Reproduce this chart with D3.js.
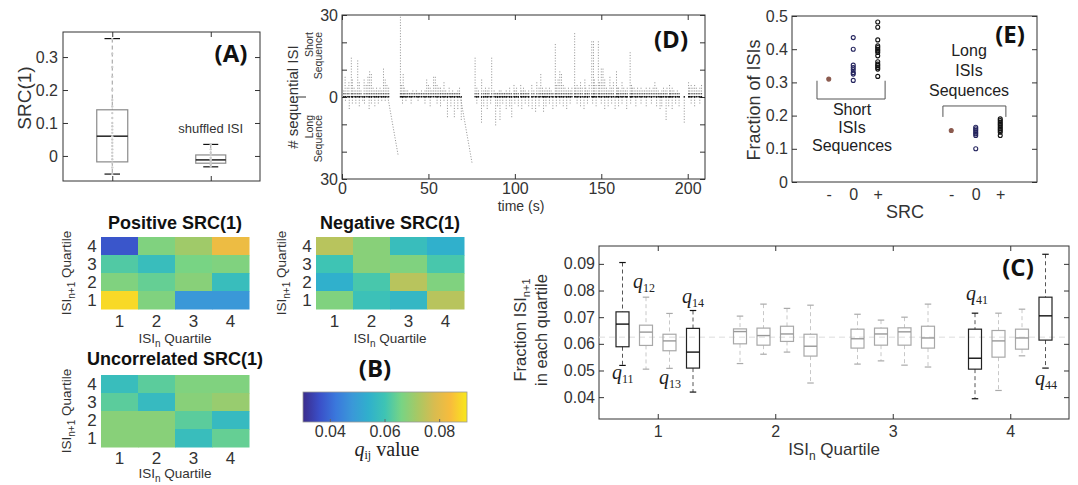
<!DOCTYPE html>
<html>
<head>
<meta charset="utf-8">
<script src="https://cdn.jsdelivr.net/npm/d3@7"></script>
<style>
body { margin: 0; background: #fff; }
svg { display: block; font-family: "Liberation Sans", Arial, sans-serif; }
.tag { font-family: "Open Sans", sans-serif; font-weight: bold; font-size: 24px; fill: #111; }
</style>
</head>
<body>
<svg id="fig" width="1078" height="485"></svg>
<script>
// ---------- data ----------

// (A) SRC(1) box plots: [low whisker, q1, median, q3, high whisker]
var srcGroups = ["ISI", "shuffled ISI"]
var srcBoxes = [[-0.055, -0.018, 0.06, 0.14, 0.356], [-0.033, -0.022, -0.012, 0.003, 0.035]]
var srcDots = [0.355, 0.31, 0.27, 0.24, 0.2, 0.17, 0.15, 0.13, 0.115, 0.1, 0.09, 0.08, 0.07, 0.06, 0.05, 0.04, 0.03, 0.02, 0.01, 0.0, -0.01, -0.02, -0.035, -0.055]
var shufDots = [0.035, 0.02, 0.01, 0.003, -0.005, -0.01, -0.015, -0.02, -0.025, -0.033]

// (D) sequences: [time (s), number of sequential ISIs]  (+ short, - long)
var shortSeq = [[1,2],[1.8,7],[3,3],[4,5],[5.4,14],[6,6],[7,3],[8,2],[9.1,13],[10,5],[11,2],[12.8,6],[14,4],[15,7],[16,9],[17,8],[18,3],[19,2],[20,3],[21,2],[22,3],[23,2],[24,10],[25,6],[26,4],[27,3],
  [33.8,29],[34.5,4],[35.4,8],[36,3],[37,2],[38,2],[39,1],[40,1],[41,2],[42,1],[43,2],[44,1],[45,1],[46,2],[47,1],[48,2],[49,6],[50,4],[51,3],[52,2],[53,7],[54,7],[55,4],[56,3],[57,3],[58,2],[59,5],[60,2],[61,1],[62,3],[63,1],[64,2],[65,1],[66,1],[67,2],[68,3],
  [77,14],[78,3],[79,2],[80.8,6],[82,2],[83,3],[84,2],[85,3],[86.6,14],[88,2],[89,1],[90,1],[91,2],[92,2],[93,1],[94,1],[95,2],[96,1],[97,3],[98,1],[99.5,4],[100,2],[101,3],[102,1],[103.4,4],[104,2],[105,3],[106,2],[107,1],[108,2],[109.8,4],[111,2],[112.7,5],[114,3],[115,8],[116,3],[117,2],[118,3],[119,2],[120,3],[121,2],[122,1],[123.4,19],[124,4],[125,6],[126,9],[127,8],[128,4],[129,3],[130,2],[131,3],[132,2],[133,3],
  [134.6,23],[135,3],[136,4],[137,3],[138,5],[139,3],[140.5,6],[141,3],[142,2],[143,4],[144.5,20],[145.5,20],[146,6],[147,4],[148.3,20],[149,5],[150,10],[151,10],[152,6],[153,3],[154,2],[155,7],[156,3],[157,5],[158.8,9],[159.5,3],[160,3],[161,2],[162,5],[163,3],[164,2],[165,3],[166.7,16],[167.5,4],[168,3],[169,3],[170,2],
  [171,3],[172,2],[173,3],[174,2],[175,2],[176,3],[177,2],[178,3],[179,2],[180,3],[181,5],[182,3],[183,2],[184,1],[185,2],[186,3],[187,2],[188,3],[189.5,4],[190,2],[191,3],[192,2],[193,1],[194,2],[195,1],[200.5,5],[201,3],[202,4],[203,3],[204,4],[205,3],[206,2],[207,3],[208,4]]
var longSeq = [[2,-1],[4.2,-4],[6,-2],[8,-2],[10,-3],[12,-1],[13,-2],[15.7,-4],[17,-2],[19,-3],[21,-2],[23,-1],[25,-1],[35,-2],[37,-1],[40,-2],[44,-1],[48,-2],[51,-3],[55,-2],[57,-3],[59,-1],[61,-7],[63,-3],[65,-7],[67,-4],[69,-8],
  [78,-2],[80.7,-9],[82,-3],[84,-4],[86,-2],[88.9,-10],[90,-3],[91.4,-8],[93,-2],[95,-4],[97,-3],[98.2,-7],[100,-2],[102,-3],[104,-4],[106,-2],[108,-3],[110,-4],[112,-5],[114,-3],[116.6,-5],[118,-3],[120,-2],[122,-4],[124,-3],[126,-2],[128,-3],[130,-4],[132,-2],
  [136,-2],[138,-3],[140,-4],[142,-2],[145,-2],[147,-3],[150,-2],[152,-4],[154,-3],[156,-2],[158,-4],[160,-3],[162,-2],[164.7,-4],[167,-2],[170,-3],[173,-2],[176,-3],[179,-2],[182,-3],[184,-4],[185,-3],[187.5,-8],[189,-3],[191,-4],[193,-2],[195,-3],[198,-9],[202,-2],[204,-3],[207,-2]]
// long runs that spread over time: [start (s), end (s), length]
var longRuns = [[26.5, 32.5, -21], [68.5, 75.3, -24]]

// (E) fraction of ISIs per SRC sign
var eCats = ["-", "0", "+", "-", "0", "+"]
var eVals = [
  [0.31],
  [0.435, 0.40, 0.352, 0.345, 0.338, 0.33, 0.325, 0.306],
  [0.482, 0.466, 0.428, 0.41, 0.405, 0.40, 0.395, 0.39, 0.38, 0.362, 0.355, 0.35, 0.345, 0.34, 0.318],
  [0.155],
  [0.165, 0.16, 0.155, 0.15, 0.145, 0.14, 0.10],
  [0.19, 0.185, 0.18, 0.175, 0.17, 0.165, 0.16, 0.155, 0.15, 0.14]
]

// (B) q_ij heatmaps, rows = ISI_{n+1} quartile 4..1, cols = ISI_n quartile 1..4
var quartiles = [1, 2, 3, 4]
var rowQuartiles = [4, 3, 2, 1]
var posSRC = [[0.037, 0.067, 0.071, 0.082], [0.062, 0.058, 0.066, 0.067], [0.067, 0.064, 0.068, 0.058], [0.088, 0.067, 0.048, 0.048]]
var negSRC = [[0.074, 0.068, 0.058, 0.054], [0.060, 0.068, 0.067, 0.061], [0.054, 0.061, 0.074, 0.067], [0.067, 0.059, 0.056, 0.074]]
var uncSRC = [[0.058, 0.063, 0.067, 0.067], [0.063, 0.057, 0.068, 0.070], [0.068, 0.068, 0.063, 0.057], [0.068, 0.068, 0.058, 0.064]]
var cbTicks = [0.04, 0.06, 0.08]

// (C) q_ij box plots, order q11..q14, q21..q24, ...: [low, q1, median, q3, high]
var qBoxes = [
  [0.0519, 0.0589, 0.0674, 0.0720, 0.0905], [0.0505, 0.0594, 0.0644, 0.0670, 0.0775], [0.0508, 0.0574, 0.0611, 0.0636, 0.0714], [0.0419, 0.0509, 0.0569, 0.0658, 0.0725],
  [0.0526, 0.0600, 0.0646, 0.0656, 0.0704], [0.0561, 0.0595, 0.0631, 0.0659, 0.0749], [0.0569, 0.0609, 0.0637, 0.0666, 0.0733], [0.0453, 0.0554, 0.0591, 0.0636, 0.0745],
  [0.0524, 0.0584, 0.0619, 0.0655, 0.0711], [0.0536, 0.0595, 0.0637, 0.0659, 0.0689], [0.0520, 0.0595, 0.0645, 0.0660, 0.0700], [0.0513, 0.0584, 0.0622, 0.0666, 0.0749],
  [0.0394, 0.0505, 0.0546, 0.0655, 0.0715], [0.0425, 0.0550, 0.0611, 0.0650, 0.0715], [0.0555, 0.0580, 0.0622, 0.0655, 0.0730], [0.0509, 0.0614, 0.0705, 0.0775, 0.0936]
]
var qHighlight = ["11", "14", "41", "44"]
var qUniform = 0.0625

// ---------- helpers ----------
var svg = d3.select("#fig")
svg.append("rect").attr("width", 1078).attr("height", 485).attr("fill", "#fff")

var axisCol = "#333"

// matlab-style box with inward ticks
function boxAxes(x, y, o) {
  var xr = x.range(), yr = y.range()
  var g = svg.append("g")
  g.append("g").attr("transform", "translate(" + xr[0] + ",0)")
    .call(d3.axisLeft(y).tickValues(o.yTicks).tickSizeInner(-5).tickSizeOuter(0).tickPadding(o.yPad || 5).tickFormat(o.yFmt))
  g.append("g").attr("transform", "translate(" + xr[1] + ",0)")
    .call(d3.axisRight(y).tickValues(o.yTicks).tickSizeInner(-5).tickSizeOuter(0).tickFormat(""))
  if (o.xTicks) {
    g.append("g").attr("transform", "translate(0," + yr[0] + ")")
      .call(d3.axisBottom(x).tickValues(o.xTicks).tickSizeInner(o.noXTick ? 0 : -5).tickSizeOuter(0).tickPadding(o.xPad || 6).tickFormat(o.xFmt))
    if (!o.noXTick) {
      g.append("g").attr("transform", "translate(0," + yr[1] + ")")
        .call(d3.axisTop(x).tickValues(o.xTicks).tickSizeInner(-5).tickSizeOuter(0).tickFormat(""))
    }
  }
  g.selectAll(".domain").remove()
  g.selectAll("g").attr("font-family", null).attr("font-size", null)
  g.selectAll(".tick line").attr("stroke", axisCol)
  g.selectAll(".tick text").attr("fill", axisCol).style("font-size", (o.fs || 16) + "px")
  g.append("rect").attr("x", xr[0]).attr("y", yr[1]).attr("width", xr[1] - xr[0]).attr("height", yr[0] - yr[1])
    .attr("fill", "none").attr("stroke", axisCol).attr("stroke-width", 1)
  return g
}

function rich(sel, parts, subSize, shift) {
  var down = false
  parts.forEach(function(p) {
    var isSub = p.charAt(0) === "_"
    var s = sel.append("tspan").text(isSub ? p.slice(1) : p)
    if (isSub) { s.attr("font-size", subSize).attr("dy", shift); down = true }
    else if (down) { s.attr("dy", -shift); down = false }
  })
  return sel
}

function rotLabel(x, y, size) {
  return svg.append("text").attr("transform", "translate(" + x + "," + y + ") rotate(-90)")
    .attr("text-anchor", "middle").attr("fill", axisCol).style("font-size", size + "px")
}

function drawBox(g, cx, w, b, y, st) {
  g.append("line").attr("x1", cx).attr("x2", cx).attr("y1", y(b[4])).attr("y2", y(b[3]))
    .attr("stroke", st.whisker).attr("stroke-dasharray", "4,3")
  g.append("line").attr("x1", cx).attr("x2", cx).attr("y1", y(b[1])).attr("y2", y(b[0]))
    .attr("stroke", st.whisker).attr("stroke-dasharray", "4,3")
  ;[b[0], b[4]].forEach(function(v) {
    g.append("line").attr("x1", cx - w / 4).attr("x2", cx + w / 4).attr("y1", y(v)).attr("y2", y(v))
      .attr("stroke", st.cap).attr("stroke-width", 1.2)
  })
  g.append("rect").attr("x", cx - w / 2).attr("y", y(b[3])).attr("width", w).attr("height", y(b[1]) - y(b[3]))
    .attr("fill", "none").attr("stroke", st.box).attr("stroke-width", 1.2)
  g.append("line").attr("x1", cx - w / 2).attr("x2", cx + w / 2).attr("y1", y(b[2])).attr("y2", y(b[2]))
    .attr("stroke", st.median).attr("stroke-width", 1.4)
}

// ---------- (A) ----------
var xA = d3.scalePoint().domain(srcGroups).range([63, 260]).padding(0.5)
var yA = d3.scaleLinear().domain([-0.076, 0.376]).range([181, 32])
boxAxes(xA, yA, {yTicks: [0, 0.1, 0.2, 0.3], yFmt: function(d) { return d === 0 ? "0" : d3.format(".1f")(d) },
  xTicks: srcGroups, xFmt: "", yPad: 5})
var aG = svg.append("g")
var aStyle = {whisker: "#999", cap: "#111", box: "#8a8a8a", median: "#111"}
srcBoxes.forEach(function(b, i) { drawBox(aG, xA(srcGroups[i]), i === 0 ? 31 : 30, b, yA, aStyle) })
aG.selectAll(".d1").data(srcDots).enter().append("circle")
  .attr("cx", xA(srcGroups[0])).attr("cy", function(d) { return yA(d) }).attr("r", 1.2).attr("fill", "#ccc")
aG.selectAll(".d2").data(shufDots).enter().append("circle")
  .attr("cx", xA(srcGroups[1])).attr("cy", function(d) { return yA(d) }).attr("r", 1.2).attr("fill", "#ccc")
svg.append("text").attr("x", xA(srcGroups[1])).attr("y", 133).attr("text-anchor", "middle")
  .attr("fill", axisCol).style("font-size", "13px").text("shuffled ISI")
rotLabel(31, 98, 19).text("SRC(1)")
svg.append("text").attr("class", "tag").attr("x", 231).attr("y", 62).attr("text-anchor", "middle").text("(A)")

// ---------- (D) ----------
var xD = d3.scaleLinear().domain([0, 210]).range([342, 705])
var yD = d3.scaleLinear().domain([-30, 30]).range([179, 15])
boxAxes(xD, yD, {yTicks: [-30, -20, -10, 0, 10, 20, 30], yFmt: function(d) { return d % 30 === 0 ? Math.abs(d) : "" },
  xTicks: [0, 50, 100, 150, 200], xFmt: d3.format("d"), yPad: 4, xPad: 4})
var unit = yD(0) - yD(1)
var dash = "1.1," + (unit - 1.1).toFixed(2)
var dG = svg.append("g")
dG.selectAll(".col").data(shortSeq.concat(longSeq)).enter().append("line")
  .attr("x1", function(d) { return xD(d[0]) }).attr("x2", function(d) { return xD(d[0]) })
  .attr("y1", yD(0)).attr("y2", function(d) { return yD(d[1]) + (d[1] > 0 ? -1.1 : 1.1) })
  .attr("stroke", "#999").attr("stroke-width", 1).attr("stroke-dasharray", dash)
dG.selectAll(".run").data(longRuns).enter().append("line")
  .attr("x1", function(d) { return xD(d[0]) }).attr("x2", function(d) { return xD(d[1]) })
  .attr("y1", yD(0)).attr("y2", function(d) { return yD(d[2]) + 1.1 })
  .attr("stroke", "#999").attr("stroke-width", 1).attr("stroke-dasharray", dash)
dG.selectAll(".base").data(shortSeq.concat(longSeq)).enter().append("line")
  .attr("x1", function(d) { return xD(d[0]) }).attr("x2", function(d) { return xD(d[0]) })
  .attr("y1", yD(0) + 0.6).attr("y2", yD(0) - 1)
  .attr("stroke", "#111").attr("stroke-width", 1.2)
dG.selectAll(".base1").data(shortSeq).enter().append("line")
  .attr("x1", function(d) { return xD(d[0]) }).attr("x2", function(d) { return xD(d[0]) })
  .attr("y1", yD(1)).attr("y2", yD(1) - 1.1)
  .attr("stroke", "#555").attr("stroke-width", 1.1)
svg.append("line").attr("x1", 296).attr("x2", 306).attr("y1", yD(0)).attr("y2", yD(0)).attr("stroke", axisCol)
rotLabel(298, 97, 15).text("# sequential ISI")
;[["Short", 313, 32], ["Sequence", 322, 32], ["Long", 313, 115], ["Sequence", 322, 115]].forEach(function(s) {
  svg.append("text").attr("transform", "translate(" + s[1] + "," + s[2] + ") rotate(-90)")
    .attr("text-anchor", "end").attr("fill", axisCol).style("font-size", "10.5px").text(s[0])
})
svg.append("text").attr("x", 521).attr("y", 211).attr("text-anchor", "middle").attr("fill", axisCol)
  .style("font-size", "14px").text("time (s)")
svg.append("text").attr("class", "tag").attr("x", 671).attr("y", 48).attr("text-anchor", "middle").text("(D)")

// ---------- (E) ----------
var ePos = [2, 3, 4, 7, 8, 9]
var xE = d3.scaleLinear().domain([0.5, 10.5]).range([792, 1037])
var yE = d3.scaleLinear().domain([0, 0.5]).range([182, 16])
boxAxes(xE, yE, {yTicks: [0, 0.1, 0.2, 0.3, 0.4, 0.5], yFmt: function(d) { return d === 0 ? "0" : d3.format(".1f")(d) },
  xTicks: ePos, xFmt: function(d, i) { return eCats[i] }, noXTick: true, yPad: 4, xPad: 7})
var eCol = ["#8b5a4e", "#24245e", "#111", "#8b5a4e", "#24245e", "#111"]
var eG = svg.append("g")
eVals.forEach(function(vals, i) {
  eG.selectAll(".e" + i).data(vals).enter().append("circle")
    .attr("cx", xE(ePos[i])).attr("cy", function(d) { return yE(d) }).attr("r", 2)
    .attr("fill", eCats[i] === "-" ? eCol[i] : "none").attr("stroke", eCol[i]).attr("stroke-width", 1.1)
})
// brackets
var bracket = d3.line()
eG.append("path").attr("d", bracket([[xE(1.52), yE(0.305)], [xE(1.52), yE(0.25)], [xE(4.3), yE(0.25)], [xE(4.3), yE(0.305)]]))
  .attr("fill", "none").attr("stroke", "#555")
eG.append("path").attr("d", bracket([[xE(6.66), yE(0.196)], [xE(6.66), yE(0.229)], [xE(9.23), yE(0.229)], [xE(9.23), yE(0.196)]]))
  .attr("fill", "none").attr("stroke", "#555")
;[["Short", 115], ["ISIs", 133], ["Sequences", 151]].forEach(function(s) {
  svg.append("text").attr("x", 852).attr("y", s[1]).attr("text-anchor", "middle").attr("fill", "#222")
    .style("font-size", "16px").text(s[0])
})
;[["Long", 56], ["ISIs", 76], ["Sequences", 96]].forEach(function(s) {
  svg.append("text").attr("x", 969).attr("y", s[1]).attr("text-anchor", "middle").attr("fill", "#222")
    .style("font-size", "16px").text(s[0])
})
rotLabel(760, 100, 18).text("Fraction of ISIs")
svg.append("text").attr("x", 905).attr("y", 218).attr("text-anchor", "middle").attr("fill", axisCol)
  .style("font-size", "18px").text("SRC")
svg.append("text").attr("class", "tag").attr("x", 1010).attr("y", 43).attr("text-anchor", "middle").text("(E)")

// ---------- (B) ----------
var parula = ["#3b2c8c", "#3a4fc8", "#3a78dc", "#3a98d8", "#30b0cc", "#3ec4b4", "#78d484", "#a8c864", "#d8bc50", "#f8bc3c", "#f8e81c"]
var color = d3.scaleLinear()
  .domain(parula.map(function(c, i) { return 0.03 + 0.06 * i / (parula.length - 1) }))
  .range(parula).clamp(true)

function heatmap(data, x0, y0, title, tickPad, labelPad, titlePad) {
  var x = d3.scaleBand().domain(quartiles).range([x0, x0 + 148])
  var y = d3.scaleBand().domain(rowQuartiles).range([y0, y0 + 72])
  var g = svg.append("g")
  data.forEach(function(row, r) {
    g.selectAll(".r" + r).data(row).enter().append("rect")
      .attr("x", function(d, c) { return x(quartiles[c]) }).attr("y", y(rowQuartiles[r]))
      .attr("width", x.bandwidth() + 0.5).attr("height", y.bandwidth() + 0.5)
      .attr("fill", function(d) { return color(d) })
  })
  g.selectAll(".yt").data(rowQuartiles).enter().append("text")
    .attr("x", x0 - 9).attr("y", function(d) { return y(d) + y.bandwidth() / 2 }).attr("dy", "0.36em")
    .attr("text-anchor", "middle").attr("fill", axisCol).style("font-size", "17px").text(function(d) { return d })
  g.selectAll(".xt").data(quartiles).enter().append("text")
    .attr("x", function(d) { return x(d) + x.bandwidth() / 2 }).attr("y", y0 + 72 + tickPad)
    .attr("text-anchor", "middle").attr("fill", axisCol).style("font-size", "17px").text(function(d) { return d })
  rich(g.append("text").attr("x", x0 + 74).attr("y", y0 + 72 + labelPad).attr("text-anchor", "middle")
    .attr("fill", axisCol).style("font-size", "13.5px"), ["ISI", "_n", " Quartile"], "10px", 4)
  rich(rotLabel(x0 - 30, y0 + 36, 13.5), ["ISI", "_n+1", " Quartile"], "10px", 4)
  g.append("text").attr("x", x0 + 74).attr("y", y0 - titlePad).attr("text-anchor", "middle")
    .attr("fill", "#111").style("font-size", "18px").style("font-weight", "bold").text(title)
}
heatmap(posSRC, 101, 237, "Positive SRC(1)", 18, 34, 8)
heatmap(negSRC, 316, 237, "Negative SRC(1)", 18, 34, 8)
heatmap(uncSRC, 101, 375, "Uncorrelated SRC(1)", 17, 31, 10)

// colour bar
var xCb = d3.scaleLinear().domain([0.03, 0.09]).range([303, 467])
var grad = svg.append("defs").append("linearGradient").attr("id", "cb")
parula.forEach(function(c, i) {
  grad.append("stop").attr("offset", (100 * i / (parula.length - 1)) + "%").attr("stop-color", c)
})
svg.append("rect").attr("x", 303).attr("y", 392).attr("width", 164).attr("height", 30)
  .attr("fill", "url(#cb)").attr("stroke", "#999").attr("stroke-width", 0.8)
svg.selectAll(".cbt").data(cbTicks).enter().append("line")
  .attr("x1", function(d) { return xCb(d) }).attr("x2", function(d) { return xCb(d) })
  .attr("y1", 422).attr("y2", 419).attr("stroke", "#666")
svg.selectAll(".cbl").data(cbTicks).enter().append("text")
  .attr("x", function(d) { return xCb(d) }).attr("y", 437).attr("text-anchor", "middle")
  .attr("fill", axisCol).style("font-size", "16px").text(function(d) { return d3.format(".2f")(d) })
var cbLab = svg.append("text").attr("x", 387).attr("y", 456).attr("text-anchor", "middle")
  .attr("fill", "#222").style("font-family", "'Liberation Serif', 'Times New Roman', serif").style("font-size", "20px")
cbLab.append("tspan").style("font-style", "italic").text("q")
cbLab.append("tspan").attr("font-size", "12px").attr("dy", 3).text("ij")
cbLab.append("tspan").attr("dy", -3).text(" value")
svg.append("text").attr("class", "tag").attr("x", 375).attr("y", 377).attr("text-anchor", "middle").text("(B)")

// ---------- (C) ----------
var xC = d3.scaleLinear().domain([0.5, 4.5]).range([599, 1069])
var yC = d3.scaleLinear().domain([0.0318, 0.0967]).range([419, 246])
boxAxes(xC, yC, {yTicks: [0.04, 0.05, 0.06, 0.07, 0.08, 0.09], yFmt: d3.format(".2f"),
  xTicks: quartiles, xFmt: d3.format("d"), yPad: 4, xPad: 7})
var cG = svg.append("g")
cG.append("line").attr("x1", xC(0.5)).attr("x2", xC(4.5)).attr("y1", yC(qUniform)).attr("y2", yC(qUniform))
  .attr("stroke", "#ddd").attr("stroke-dasharray", "6,4")
var offsets = [-0.3, -0.1, 0.1, 0.3]
var dark = {whisker: "#555", cap: "#111", box: "#222", median: "#111"}
var light = {whisker: "#c8c8c8", cap: "#aaa", box: "#a8a8a8", median: "#999"}
qBoxes.forEach(function(b, k) {
  var i = Math.floor(k / 4), j = k % 4
  var id = "" + (i + 1) + (j + 1)
  var cx = xC(quartiles[i] + offsets[j])
  drawBox(cG, cx, 13, b, yC, qHighlight.indexOf(id) >= 0 ? dark : light)
})
function qLabel(id, x, y) {
  var t = svg.append("text").attr("x", x).attr("y", y).attr("fill", "#222")
    .style("font-family", "'Liberation Serif', 'Times New Roman', serif").style("font-size", "20px")
  t.append("tspan").style("font-style", "italic").text("q")
  t.append("tspan").attr("font-size", "12px").attr("dy", 4).text(id)
}
qLabel("11", 612, 379)
qLabel("12", 633, 288)
qLabel("13", 659, 384)
qLabel("14", 682, 303)
qLabel("41", 966, 300)
qLabel("44", 1035, 385)
rich(rotLabel(526, 330, 16.5), ["Fraction ISI", "_n+1"], "11px", 4)
rotLabel(547, 330, 16.5).text("in each quartile")
rich(svg.append("text").attr("x", 834).attr("y", 455).attr("text-anchor", "middle").attr("fill", axisCol)
  .style("font-size", "17px"), ["ISI", "_n", " Quartile"], "12px", 5)
svg.append("text").attr("class", "tag").attr("x", 1018).attr("y", 276).attr("text-anchor", "middle").text("(C)")
</script>
</body>
</html>
